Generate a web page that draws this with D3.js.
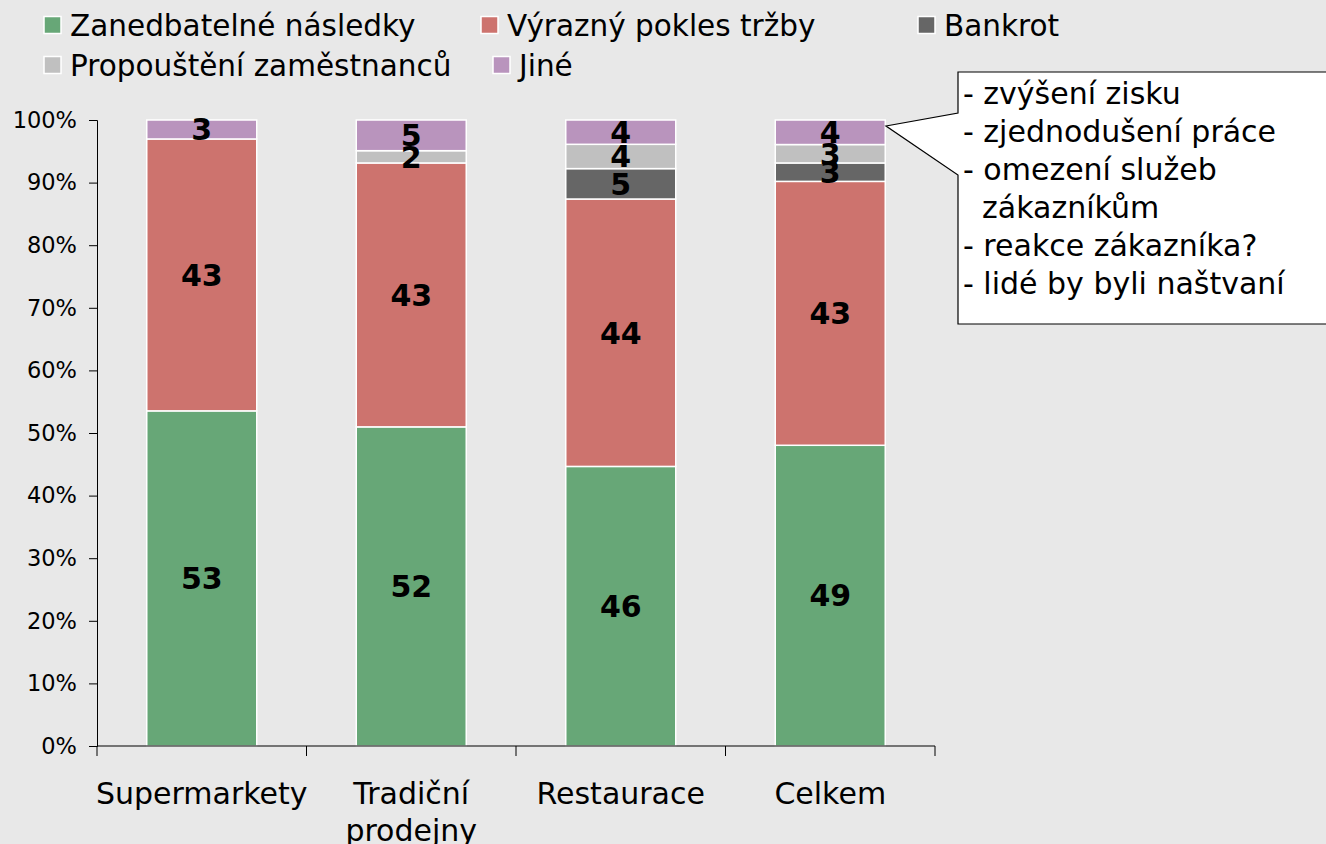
<!DOCTYPE html>
<html>
<head>
<meta charset="utf-8">
<script src="https://cdn.jsdelivr.net/npm/d3@7"></script>
<style>
  html, body { margin: 0; padding: 0; background: #e8e8e8; }
  svg { display: block; font-family: "DejaVu Sans", Verdana, sans-serif; }
</style>
</head>
<body>
<svg id="chart" width="1326" height="844"></svg>
<script>
// Categories (x axis), with line breaks for long names
const categories = ["Supermarkety", "Tradiční prodejny", "Restaurace", "Celkem"];
const categoryLines = [["Supermarkety"], ["Tradiční", "prodejny"], ["Restaurace"], ["Celkem"]];

// Series, bottom to top of each stack
const seriesNames = ["Zanedbatelné následky", "Výrazný pokles tržby", "Bankrot", "Propouštění zaměstnanců", "Jiné"];
const zanedbatelne = [53, 52, 46, 49];
const vyraznyPokles = [43, 43, 44, 43];
const bankrot = [0, 0, 5, 3];
const propousteni = [0, 2, 4, 3];
const jine = [3, 5, 4, 4];
const seriesColors = ["#67a777", "#cd736e", "#666666", "#c0c0c0", "#b994bd"];

const yTicks = [0, 0.1, 0.2, 0.3, 0.4, 0.5, 0.6, 0.7, 0.8, 0.9, 1];

const calloutLines = ["- zvýšení zisku", "- zjednodušení práce", "- omezení služeb", "  zákazníkům", "- reakce zákazníka?", "- lidé by byli naštvaní"];

const seriesValues = [zanedbatelne, vyraznyPokles, bankrot, propousteni, jine];
const rows = categories.map((c, i) => {
  const r = { category: c };
  seriesNames.forEach((s, k) => { r[s] = seriesValues[k][i]; });
  return r;
});

const stacked = d3.stack()
  .keys(seriesNames)
  .offset(d3.stackOffsetExpand)(rows);

const svg = d3.select("#chart");
const plotLeft = 97, plotRight = 935, plotTop = 120, plotBottom = 746;

const x = d3.scaleBand().domain(categories).range([plotLeft, plotRight])
  .paddingInner(0.475).paddingOuter(0.2375);
const y = d3.scaleLinear().domain([0, 1]).range([plotBottom, plotTop]);

// Bars
const layers = svg.append("g").selectAll("g").data(stacked).join("g")
  .attr("fill", (d, i) => seriesColors[i]);

layers.selectAll("rect").data(d => d).join("rect")
  .attr("x", d => x(d.data.category))
  .attr("width", x.bandwidth())
  .attr("y", d => y(d[1]))
  .attr("height", d => Math.max(0, y(d[0]) - y(d[1])))
  .attr("stroke", "#ffffff")
  .attr("stroke-width", 1.5);

// Value labels
const labelG = svg.append("g");
stacked.forEach((layer, k) => {
  layer.forEach((d, i) => {
    const v = seriesValues[k][i];
    if (!v) return;
    labelG.append("text")
      .attr("x", x(d.data.category) + x.bandwidth() / 2)
      .attr("y", (y(d[0]) + y(d[1])) / 2)
      .attr("dy", "0.36em")
      .attr("text-anchor", "middle")
      .attr("font-size", 30)
      .attr("font-weight", "bold")
      .attr("fill", "#000")
      .text(v);
  });
});

// Y axis
const yAxis = svg.append("g")
  .attr("transform", `translate(${plotLeft},0)`)
  .call(d3.axisLeft(y).tickValues(yTicks).tickFormat(d3.format(".0%")).tickSizeOuter(0).tickSize(8));
yAxis.select(".domain").attr("stroke", "#000");
yAxis.selectAll(".tick line").attr("stroke", "#000");
yAxis.selectAll(".tick text")
  .attr("font-size", 22.5).attr("font-family", "DejaVu Sans, sans-serif")
  .attr("x", -20).attr("fill", "#000");

// X axis baseline and band boundary ticks
const step = x.step();
const xAxisG = svg.append("g");
xAxisG.append("line")
  .attr("x1", plotLeft).attr("x2", plotRight).attr("y1", plotBottom).attr("y2", plotBottom)
  .attr("stroke", "#000");
d3.range(categories.length + 1).forEach(i => {
  xAxisG.append("line")
    .attr("x1", plotLeft + i * step).attr("x2", plotLeft + i * step)
    .attr("y1", plotBottom).attr("y2", plotBottom + 10)
    .attr("stroke", "#000");
});
categoryLines.forEach((lines, i) => {
  const t = xAxisG.append("text")
    .attr("x", x(categories[i]) + x.bandwidth() / 2)
    .attr("y", 804)
    .attr("text-anchor", "middle")
    .attr("font-size", 30)
    .attr("fill", "#000");
  lines.forEach((ln, j) => {
    t.append("tspan")
      .attr("x", x(categories[i]) + x.bandwidth() / 2)
      .attr("dy", j === 0 ? 0 : 37)
      .text(ln);
  });
});

// Legend
const legendItems = [
  { i: 0, x: 44, y: 25 },
  { i: 1, x: 481, y: 25 },
  { i: 2, x: 918, y: 25 },
  { i: 3, x: 44, y: 65 },
  { i: 4, x: 493, y: 65 }
];
const legend = svg.append("g");
legendItems.forEach(it => {
  legend.append("rect")
    .attr("x", it.x).attr("y", it.y - 8.5)
    .attr("width", 17).attr("height", 17)
    .attr("fill", seriesColors[it.i])
    .attr("stroke", "#ffffff").attr("stroke-width", 1.5);
  legend.append("text")
    .attr("x", it.x + 26).attr("y", it.y)
    .attr("dy", "0.36em")
    .attr("font-size", 29.5)
    .attr("fill", "#000")
    .text(seriesNames[it.i]);
});

// Callout box pointing at the "Jiné" segment of the total bar
const cx0 = 958, cy0 = 72, cx1 = 1340, cy1 = 324;
const tip = [886, 126];
const callout = svg.append("g");
callout.append("path")
  .attr("d", `M${cx0},${cy0} L${cx1},${cy0} L${cx1},${cy1} L${cx0},${cy1} L${cx0},175 L${tip[0]},${tip[1]} L${cx0},113 Z`)
  .attr("fill", "#ffffff")
  .attr("stroke", "#000")
  .attr("stroke-width", 1.2);
calloutLines.forEach((ln, i) => {
  callout.append("text")
    .attr("x", 963)
    .attr("y", 93 + i * 38)
    .attr("dy", "0.36em")
    .attr("font-size", 30)
    .attr("fill", "#000")
    .attr("xml:space", "preserve")
    .style("white-space", "pre")
    .text(ln);
});
</script>
</body>
</html>
